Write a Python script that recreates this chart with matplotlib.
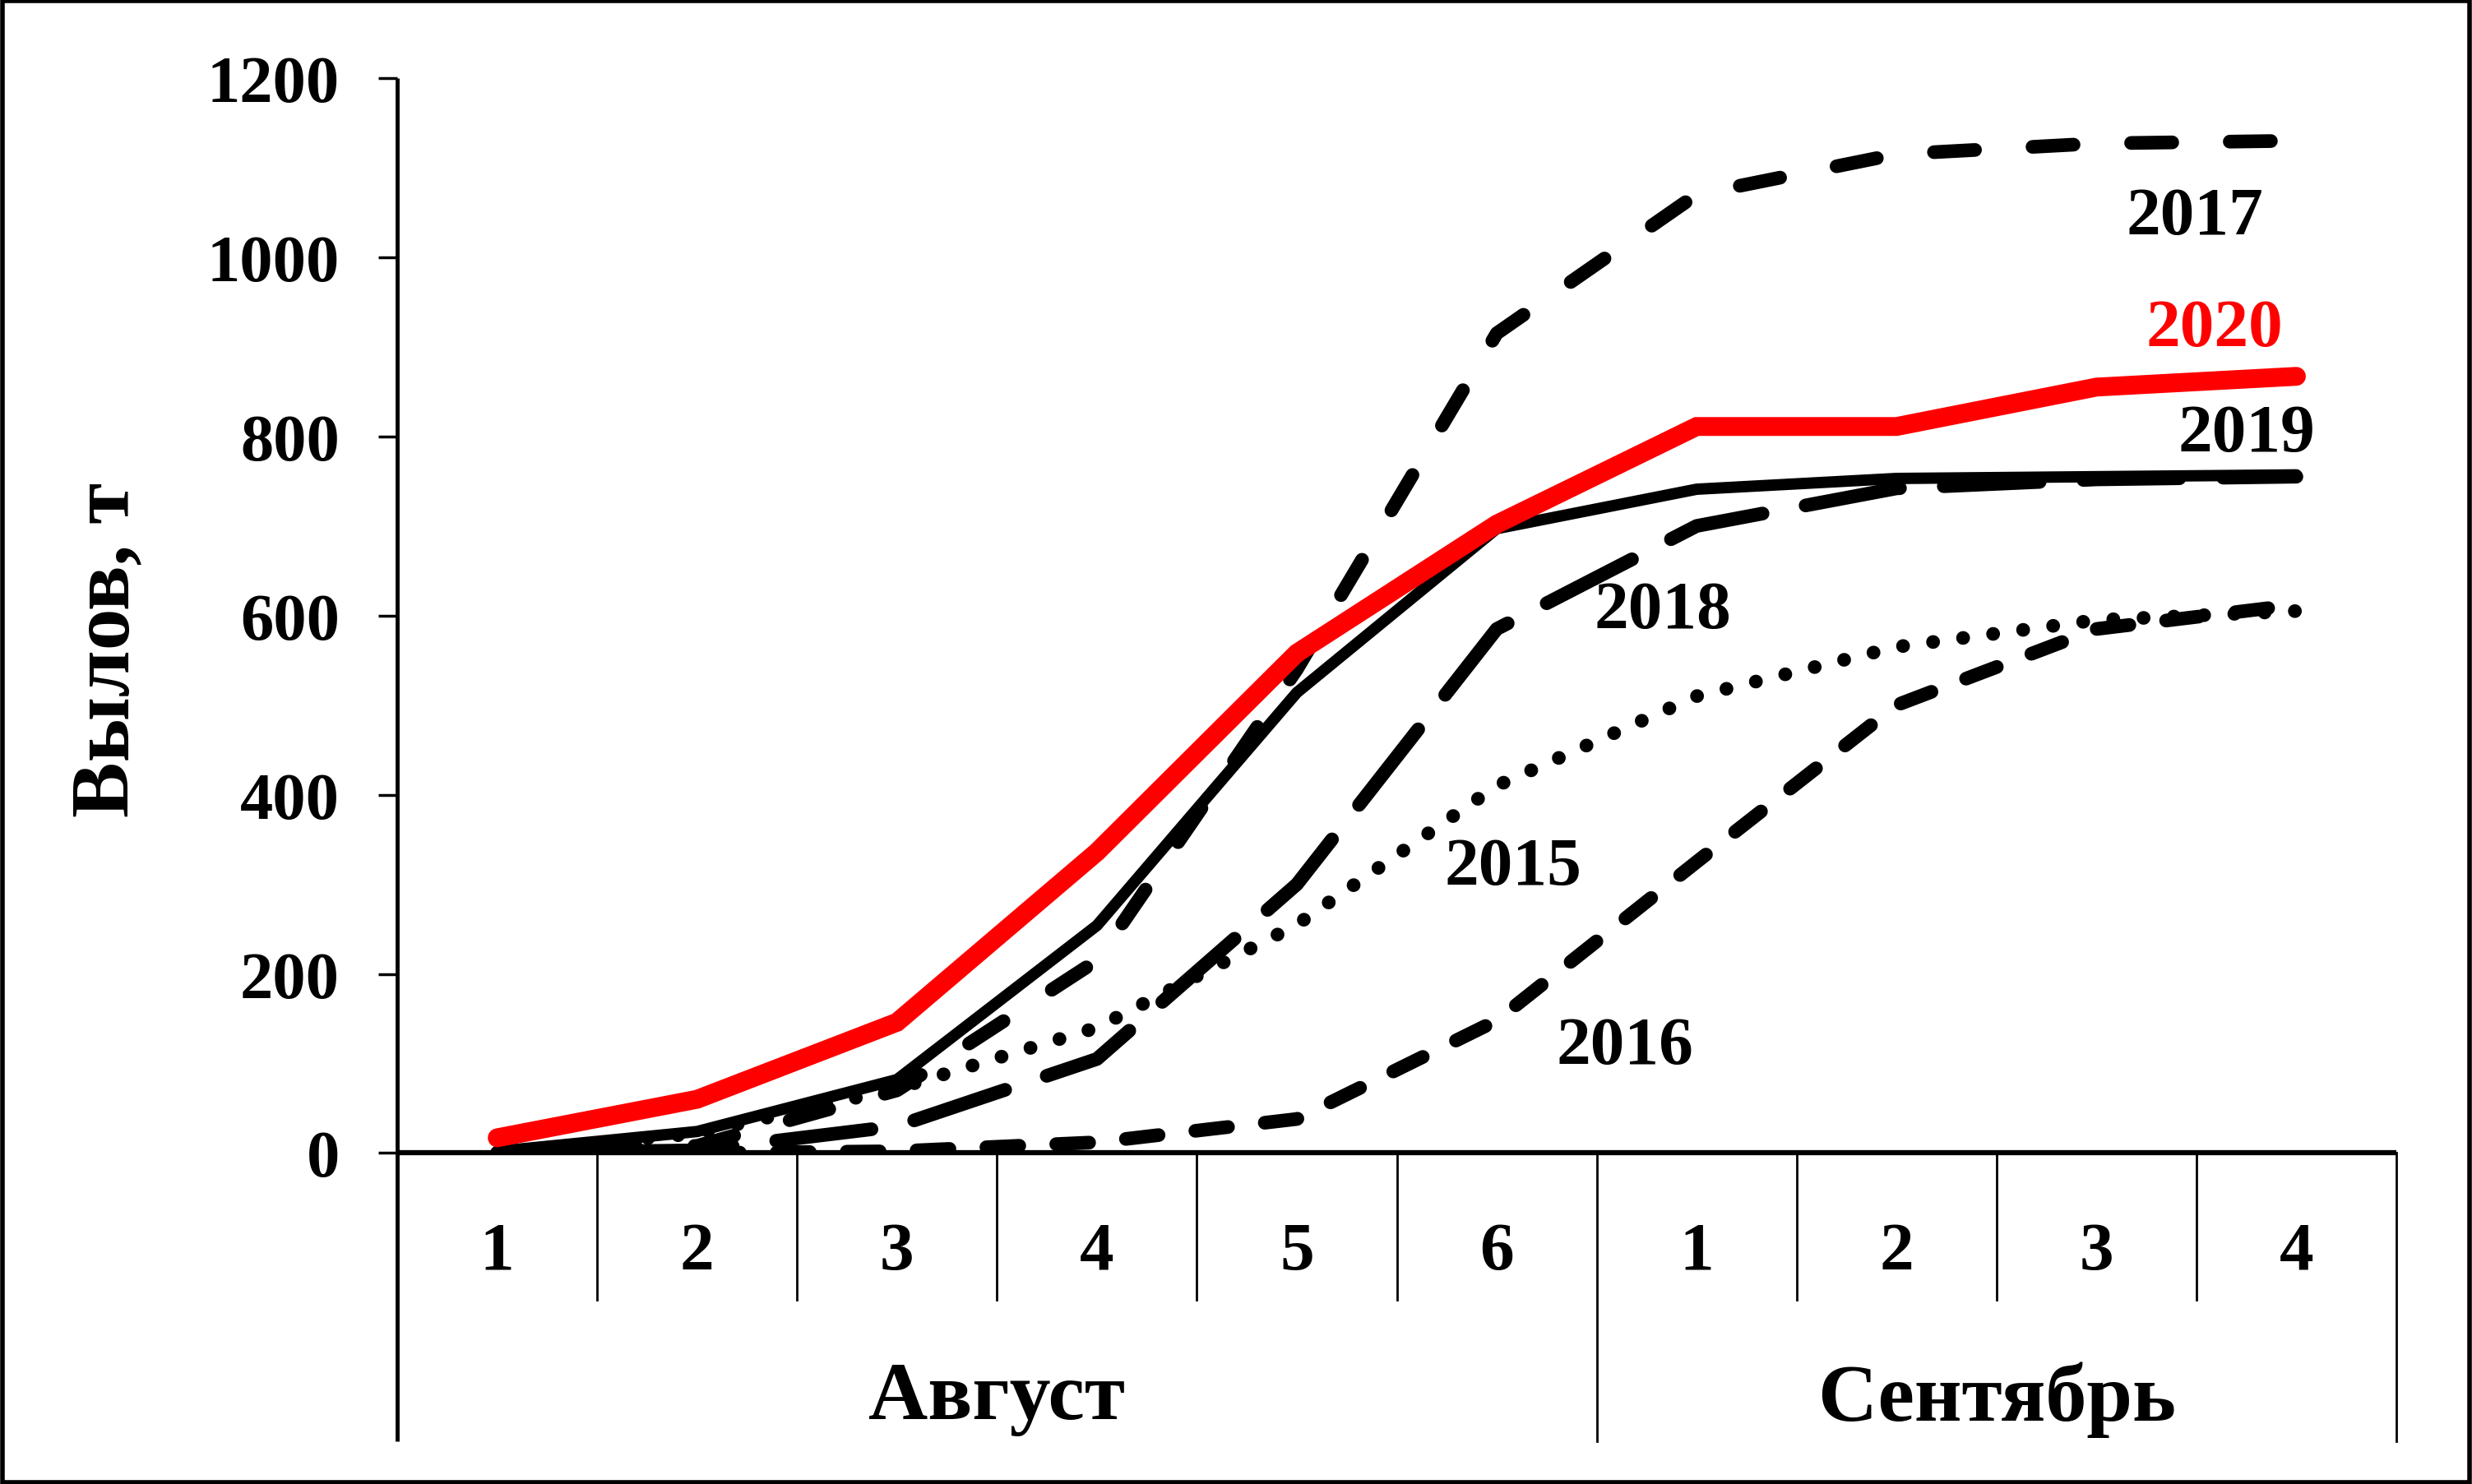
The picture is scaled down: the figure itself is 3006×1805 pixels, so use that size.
"""
Вылов по неделям (август - сентябрь), 2015-2020
"""

import matplotlib
matplotlib.use('Agg')
import matplotlib.pyplot as plt
from matplotlib.patches import Rectangle

plt.rcParams['font.family'] = ['Liberation Serif', 'DejaVu Serif']
plt.rcParams['font.weight'] = 'bold'

# Weeks of the season
weeks = ['1', '2', '3', '4', '5', '6', '1', '2', '3', '4']
months = ['Август', 'Сентябрь']
month_weeks = [6, 4]

# Cumulative catch, t
y2015 = [0, 22, 72, 140, 255, 410, 510, 565, 595, 605]
y2016 = [0, 0, 2, 12, 38, 148, 325, 500, 585, 612]
y2017 = [0, 8, 70, 215, 540, 915, 1070, 1115, 1127, 1130]
y2018 = [0, 3, 30, 105, 300, 585, 700, 742, 752, 755]
y2019 = [2, 24, 82, 254, 514, 697, 741, 753, 755, 757]
y2020 = [17, 60, 146, 336, 558, 702, 811, 811, 855, 867]

# year label positions (x in week index, y in t)
label_years = ['2017', '2020', '2019', '2018', '2015', '2016']
label_x = [8.49, 8.59, 8.75, 5.83, 5.08, 5.64]
label_y = [1044, 920, 802, 605, 318, 118]
label_colors = ['black', 'red', 'black', 'black', 'black', 'black']


def main():
    fig = plt.figure(figsize=(30.06, 18.06), dpi=100)
    ax = fig.add_axes([0.1607, 0.2229, 0.8087, 0.7240])

    x = list(range(len(weeks)))

    ax.plot(x, y2015, color='black', lw=12, linestyle=(0, (0.01, 2.2)),
            dash_capstyle='round')
    ax.plot(x, y2016, color='black', lw=12, linestyle=(0, (2.4, 2.7)),
            dash_capstyle='round')
    ax.plot(x, y2017, color='black', lw=12, linestyle=(0, (3.0, 4.2)),
            dash_capstyle='round')
    ax.plot(x, y2018, color='black', lw=12, linestyle=(0, (7.0, 3.2)),
            dash_capstyle='round')
    ax.plot(x, y2019, color='black', lw=10, solid_capstyle='round')
    ax.plot(x, y2020, color='red', lw=16.5, solid_capstyle='round',
            solid_joinstyle='miter')

    for txt, lx, ly, c in zip(label_years, label_x, label_y, label_colors):
        ax.text(lx, ly, txt, color=c, fontsize=60, fontweight='bold',
                ha='center', va='center')

    ax.set_xlim(-0.5, len(weeks) - 0.5)
    ax.set_ylim(0, 1200)
    for s in ax.spines.values():
        s.set_visible(False)

    # y axis
    ax.set_yticks(range(0, 1201, 200))
    ax.tick_params(axis='y', direction='out', length=16.5, width=2.5,
                   pad=34, labelsize=58)
    ax.set_xticks([])

    trans = ax.get_xaxis_transform()
    # x axis line
    ax.plot([-0.5, 9.5], [0, 0], color='black', lw=4.5, clip_on=False,
            solid_capstyle='butt')
    # left axis, extends down through the table
    ax.plot([-0.5, -0.5], [1, -0.2683], transform=trans, color='black',
            lw=3.5, clip_on=False, solid_capstyle='butt')

    # week separators
    bound = 0
    month_bounds = []
    for n in month_weeks:
        bound += n
        month_bounds.append(bound - 0.5)
    for b in [i + 0.5 for i in range(len(weeks) - 1)]:
        if b in month_bounds:
            continue
        ax.plot([b, b], [0, -0.1364], transform=trans, color='black',
                lw=2, clip_on=False)
    for b in month_bounds:
        ax.plot([b, b], [0, -0.2683], transform=trans, color='black',
                lw=2, clip_on=False)

    for i, w in enumerate(weeks):
        ax.text(i, -0.0924, w, transform=trans, fontsize=60,
                fontweight='bold', ha='center', va='center')

    start = -0.5
    for m, n in zip(months, month_weeks):
        ax.text(start + n / 2, -0.2287, m, transform=trans, fontsize=72,
                fontweight='bold', ha='center', va='center')
        start += n

    fig.text(0.044, 0.5626, 'Вылов, т', rotation=90, fontsize=73,
             fontweight='bold', ha='center', va='center')

    # outer frame
    fig.patches.append(Rectangle((0.001, 0.001), 0.998, 0.998,
                                 transform=fig.transFigure, fill=False,
                                 lw=4, edgecolor='black'))

    fig.savefig('out.png', dpi=100)


if __name__ == '__main__':
    main()
